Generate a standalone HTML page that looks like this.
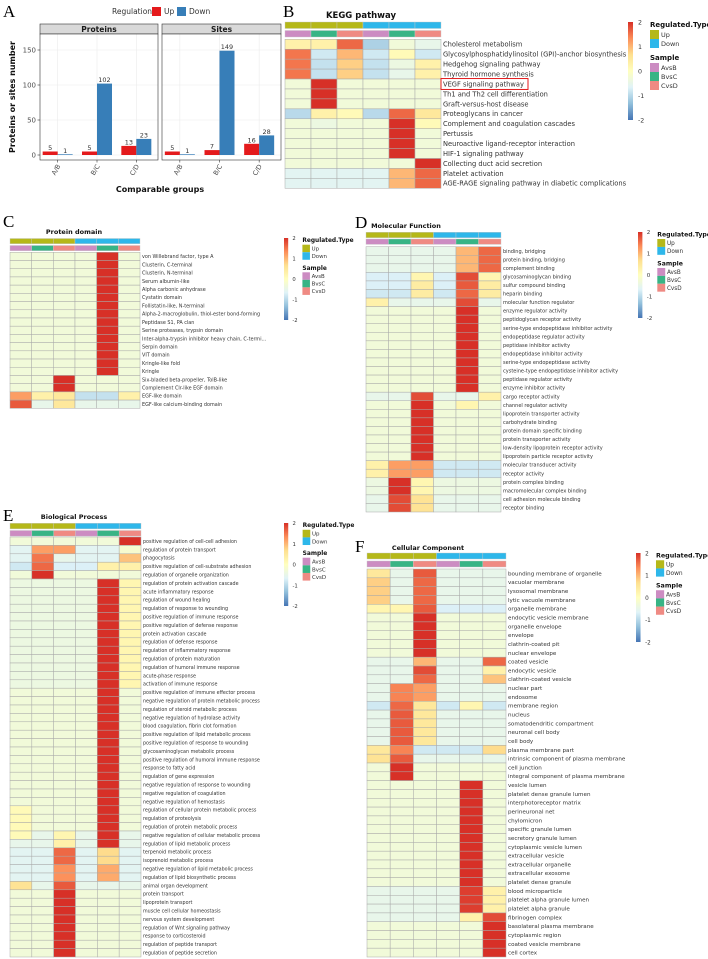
<!DOCTYPE html>
<html><head><meta charset="utf-8"><style>
html,body{margin:0;padding:0;background:#fff;}
svg{display:block;font-family:"DejaVu Sans","Liberation Sans",sans-serif;}
.pl{font-family:"Liberation Serif",serif;font-size:17px;}
</style></head><body>
<svg id="fig" width="708" height="959" viewBox="0 0 708 959" xmlns="http://www.w3.org/2000/svg">
<text class="pl" x="3" y="17">A</text>
<text class="pl" x="283" y="17">B</text>
<text class="pl" x="3" y="227">C</text>
<text class="pl" x="355" y="228">D</text>
<text class="pl" x="3" y="521">E</text>
<text class="pl" x="355" y="552">F</text>
<g id="gA"></g>
<g id="gB"></g>
<g id="gC"></g>
<g id="gD"></g>
<g id="gE"></g>
<g id="gF"></g>
</svg>
<script>
// ---------- Panel A data ----------
const barGroups = ["A/B","B/C","C/D"];
const barFacets = ["Proteins","Sites"];
const proteinsUp = [5,5,13];
const proteinsDown = [1,102,23];
const sitesUp = [5,7,16];
const sitesDown = [1,149,28];
const yTicks = [0,50,100,150];

// ---------- Heatmap data ----------
const colLabels = ["AvsB","BvsC","CvsD","AvsB","BvsC","CvsD"];
const keggRows = ["Cholesterol metabolism","Glycosylphosphatidylinositol (GPI)-anchor biosynthesis","Hedgehog signaling pathway","Thyroid hormone synthesis","VEGF signaling pathway","Th1 and Th2 cell differentiation","Graft-versus-host disease","Proteoglycans in cancer","Complement and coagulation cascades","Pertussis","Neuroactive ligand-receptor interaction","HIF-1 signaling pathway","Collecting duct acid secretion","Platelet activation","AGE-RAGE signaling pathway in diabetic complications"];
const keggVals = [
[0.3,0.3,1.6,-1.1,-0.3,-0.5],[1.5,-0.8,1.0,-0.8,0.1,-0.8],[1.5,-0.9,0.8,-0.9,-0.4,0.3],[1.5,-0.9,0.8,-0.9,-0.5,0.3],
[-0.3,2,-0.3,-0.3,-0.3,-0.3],[-0.3,2,-0.3,-0.3,-0.3,-0.3],[-0.3,2,-0.3,-0.3,-0.3,-0.3],
[-1,0.3,0.1,-1,1.6,0.5],[-0.3,-0.4,-0.3,-0.3,2,0.1],[-0.3,-0.3,-0.3,-0.3,2,-0.3],[-0.3,-0.3,-0.3,-0.3,2,-0.3],[-0.3,-0.3,-0.3,-0.3,2,-0.3],
[-0.3,-0.3,-0.3,-0.3,-0.3,2],[-0.6,-0.6,-0.6,-0.6,1.0,1.6],[-0.6,-0.6,-0.6,-0.6,1.0,1.6]];

const domainRows = ["von Willebrand factor, type A","Clusterin, C-terminal","Clusterin, N-terminal","Serum albumin-like","Alpha carbonic anhydrase","Cystatin domain","Follistatin-like, N-terminal","Alpha-2-macroglobulin, thiol-ester bond-forming","Peptidase S1, PA clan","Serine proteases, trypsin domain","Inter-alpha-trypsin inhibitor heavy chain, C-termi...","Serpin domain","VIT domain","Kringle-like fold","Kringle","Six-bladed beta-propeller, TolB-like","Complement Clr-like EGF domain","EGF-like domain","EGF-like calcium-binding domain"];
const domainVals = [
[-0.3,-0.3,-0.3,-0.3,2,-0.3],[-0.3,-0.3,-0.3,-0.3,2,-0.3],[-0.3,-0.3,-0.3,-0.3,2,-0.3],[-0.3,-0.3,-0.3,-0.3,2,-0.3],[-0.3,-0.3,-0.3,-0.3,2,-0.3],
[-0.3,-0.3,-0.3,-0.3,2,-0.3],[-0.3,-0.3,-0.3,-0.3,2,-0.3],[-0.3,-0.3,-0.3,-0.3,2,-0.3],[-0.3,-0.3,-0.3,-0.3,2,-0.3],[-0.3,-0.3,-0.3,-0.3,2,-0.3],
[-0.3,-0.3,-0.3,-0.3,2,-0.3],[-0.3,-0.3,-0.3,-0.3,2,-0.3],[-0.3,-0.3,-0.3,-0.3,2,-0.3],[-0.3,-0.3,-0.3,-0.3,2,-0.3],[-0.3,-0.3,-0.3,-0.3,2,-0.3],
[-0.3,-0.3,2,-0.3,-0.3,-0.3],[-0.3,-0.3,2,-0.3,-0.3,-0.3],[1.2,0.3,0.5,-0.9,-0.9,0.3],[1.7,-0.5,0.5,-0.5,-0.5,-0.5]];

const mfRows = ["binding, bridging","protein binding, bridging","complement binding","glycosaminoglycan binding","sulfur compound binding","heparin binding","molecular function regulator","enzyme regulator activity","peptidoglycan receptor activity","serine-type endopeptidase inhibitor activity","endopeptidase regulator activity","peptidase inhibitor activity","endopeptidase inhibitor activity","serine-type endopeptidase activity","cysteine-type endopeptidase inhibitor activity","peptidase regulator activity","enzyme inhibitor activity","cargo receptor activity","channel regulator activity","lipoprotein transporter activity","carbohydrate binding","protein domain specific binding","protein transporter activity","low-density lipoprotein receptor activity","lipoprotein particle receptor activity","molecular transducer activity","receptor activity","protein complex binding","macromolecular complex binding","cell adhesion molecule binding","receptor binding"];
const mfVals = [
[-0.5,-0.5,-0.5,-0.5,1.0,1.6],[-0.5,-0.5,-0.5,-0.5,1.0,1.6],[-0.5,-0.5,-0.5,-0.5,1.0,1.6],
[-0.7,-0.7,0.2,-0.7,1.8,0.2],[-0.7,-0.7,0.4,-0.7,1.7,0.4],[-0.8,-0.8,0.4,-0.8,1.6,0.4],[0.3,-0.5,-0.5,-0.5,1.8,-0.5],
[-0.3,-0.3,-0.3,-0.3,2,-0.3],[-0.3,-0.3,-0.3,-0.3,2,-0.3],[-0.3,-0.3,-0.3,-0.3,2,-0.3],[-0.3,-0.3,-0.3,-0.3,2,-0.3],[-0.3,-0.3,-0.3,-0.3,2,-0.3],
[-0.3,-0.3,-0.3,-0.3,2,-0.3],[-0.3,-0.3,-0.3,-0.3,2,-0.3],[-0.3,-0.3,-0.3,-0.3,2,-0.3],[-0.3,-0.3,-0.3,-0.3,2,-0.3],[-0.3,-0.3,-0.3,-0.3,2,-0.3],
[-0.5,-0.5,1.8,-0.5,-0.5,0.3],[-0.3,-0.3,2,-0.3,0.2,-0.3],
[-0.3,-0.3,2,-0.3,-0.3,-0.3],[-0.3,-0.3,2,-0.3,-0.3,-0.3],[-0.3,-0.3,2,-0.3,-0.3,-0.3],[-0.3,-0.3,2,-0.3,-0.3,-0.3],[-0.3,-0.3,2,-0.3,-0.3,-0.3],[-0.3,-0.3,2,-0.3,-0.3,-0.3],
[0.3,1.2,1.2,-0.8,-0.8,-0.8],[0.3,1.2,1.2,-0.8,-0.8,-0.8],
[-0.4,2,0.2,-0.4,-0.4,-0.4],[-0.4,2,0.2,-0.4,-0.4,-0.4],[-0.5,1.8,0.6,-0.5,-0.5,-0.5],[-0.5,1.8,0.6,-0.5,-0.5,-0.5]];

const bpRows = ["positive regulation of cell-cell adhesion","regulation of protein transport","phagocytosis","positive regulation of cell-substrate adhesion","regulation of organelle organization","regulation of protein activation cascade","acute inflammatory response","regulation of wound healing","regulation of response to wounding","positive regulation of immune response","positive regulation of defense response","protein activation cascade","regulation of defense response","regulation of inflammatory response","regulation of protein maturation","regulation of humoral immune response","acute-phase response","activation of immune response","positive regulation of immune effector process","negative regulation of protein metabolic process","regulation of steroid metabolic process","negative regulation of hydrolase activity","blood coagulation, fibrin clot formation","positive regulation of lipid metabolic process","positive regulation of response to wounding","glycosaminoglycan metabolic process","positive regulation of humoral immune response","response to fatty acid","regulation of gene expression","negative regulation of response to wounding","negative regulation of coagulation","negative regulation of hemostasis","regulation of cellular protein metabolic process","regulation of proteolysis","regulation of protein metabolic process","negative regulation of cellular metabolic process","regulation of lipid metabolic process","terpenoid metabolic process","isoprenoid metabolic process","negative regulation of lipid metabolic process","regulation of lipid biosynthetic process","animal organ development","protein transport","lipoprotein transport","muscle cell cellular homeostasis","nervous system development","regulation of Wnt signaling pathway","response to corticosteroid","regulation of peptide transport","regulation of peptide secretion"];
const bpVals = [
[-0.3,-0.3,-0.3,-0.3,-0.3,2],[-0.6,1.2,1.2,-0.6,-0.6,-0.2],[-0.6,1.5,-0.5,-0.6,-0.6,0.9],[-0.8,1.6,-0.7,-0.7,0.3,0.3],[-0.3,2,-0.3,-0.3,-0.3,-0.3],
[-0.4,-0.4,-0.4,-0.4,2,0.2],[-0.4,-0.4,-0.4,-0.4,2,0.2],[-0.4,-0.4,-0.4,-0.4,2,0.2],[-0.4,-0.4,-0.4,-0.4,2,0.2],[-0.4,-0.4,-0.4,-0.4,2,0.2],
[-0.4,-0.4,-0.4,-0.4,2,0.2],[-0.4,-0.4,-0.4,-0.4,2,0.2],[-0.4,-0.4,-0.4,-0.4,2,0.2],[-0.4,-0.4,-0.4,-0.4,2,0.2],[-0.4,-0.4,-0.4,-0.4,2,0.2],
[-0.4,-0.4,-0.4,-0.4,2,0.2],[-0.4,-0.4,-0.4,-0.4,2,0.2],[-0.4,-0.4,-0.4,-0.4,2,0.2],
[-0.3,-0.3,-0.3,-0.3,2,-0.3],[-0.3,-0.3,-0.3,-0.3,2,-0.3],[-0.3,-0.3,-0.3,-0.3,2,-0.3],[-0.3,-0.3,-0.3,-0.3,2,-0.3],[-0.3,-0.3,-0.3,-0.3,2,-0.3],
[-0.3,-0.3,-0.3,-0.3,2,-0.3],[-0.3,-0.3,-0.3,-0.3,2,-0.3],[-0.3,-0.3,-0.3,-0.3,2,-0.3],[-0.3,-0.3,-0.3,-0.3,2,-0.3],[-0.3,-0.3,-0.3,-0.3,2,-0.3],
[-0.3,-0.3,-0.3,-0.3,2,-0.3],[-0.3,-0.3,-0.3,-0.3,2,-0.3],[-0.3,-0.3,-0.3,-0.3,2,-0.3],[-0.3,-0.3,-0.3,-0.3,2,-0.3],
[0.1,-0.3,-0.3,-0.3,2,-0.3],[0.1,-0.3,-0.3,-0.3,2,-0.3],[0.1,-0.3,-0.3,-0.3,2,-0.3],
[0.1,-0.5,0.2,-0.5,2,-0.5],[-0.5,-0.5,0.3,-0.5,2,-0.5],
[-0.6,-0.6,1.6,-0.6,0.7,-0.6],[-0.6,-0.6,1.6,-0.6,0.7,-0.6],[-0.6,-0.6,1.3,-0.6,1.1,-0.6],[-0.6,-0.6,1.3,-0.6,1.1,-0.6],
[0.6,-0.5,1.7,-0.5,-0.5,-0.5],
[-0.3,-0.3,2,-0.3,-0.3,-0.3],[-0.3,-0.3,2,-0.3,-0.3,-0.3],[-0.3,-0.3,2,-0.3,-0.3,-0.3],[-0.3,-0.3,2,-0.3,-0.3,-0.3],
[-0.3,-0.3,2,-0.3,-0.3,-0.3],[-0.3,-0.3,2,-0.3,-0.3,-0.3],[-0.3,-0.3,2,-0.3,-0.3,-0.3],[-0.3,-0.3,2,-0.3,-0.3,-0.3]];

const ccRows = ["bounding membrane of organelle","vacuolar membrane","lysosomal membrane","lytic vacuole membrane","organelle membrane","endocytic vesicle membrane","organelle envelope","envelope","clathrin-coated pit","nuclear envelope","coated vesicle","endocytic vesicle","clathrin-coated vesicle","nuclear part","endosome","membrane region","nucleus","somatodendritic compartment","neuronal cell body","cell body","plasma membrane part","intrinsic component of plasma membrane","cell junction","integral component of plasma membrane","vesicle lumen","platelet dense granule lumen","interphotoreceptor matrix","perineuronal net","chylomicron","specific granule lumen","secretory granule lumen","cytoplasmic vesicle lumen","extracellular vesicle","extracellular organelle","extracellular exosome","platelet dense granule","blood microparticle","platelet alpha granule lumen","platelet alpha granule","fibrinogen complex","basolateral plasma membrane","cytoplasmic region","coated vesicle membrane","cell cortex"];
const ccVals = [
[0.5,-0.5,1.7,-0.5,-0.5,-0.5],[0.8,-0.5,1.6,-0.5,-0.5,-0.5],[0.8,-0.5,1.6,-0.5,-0.5,-0.5],[0.8,-0.5,1.6,-0.5,-0.5,-0.5],[0.2,0.2,1.7,-0.7,-0.7,-0.7],
[-0.3,-0.3,2,-0.3,-0.3,-0.3],[-0.3,-0.3,2,-0.3,-0.3,-0.3],[-0.3,-0.3,2,-0.3,-0.3,-0.3],[-0.3,-0.3,2,-0.3,-0.3,-0.3],[-0.3,-0.3,2,-0.3,-0.3,-0.3],
[-0.5,-0.5,1.0,-0.5,-0.5,1.6],[-0.5,-0.5,1.8,-0.5,-0.5,0.3],[-0.5,-0.5,1.6,-0.5,-0.5,0.9],
[-0.5,1.4,1.2,-0.5,-0.5,-0.5],[-0.5,1.4,1.2,-0.5,-0.5,-0.5],[-0.8,1.6,0.5,-0.8,0.2,-0.8],
[-0.5,1.7,0.5,-0.5,-0.5,-0.5],[-0.5,1.7,0.5,-0.5,-0.5,-0.5],[-0.5,1.7,0.5,-0.5,-0.5,-0.5],[-0.5,1.7,0.5,-0.5,-0.5,-0.5],
[0.5,1.4,-0.8,-0.8,-0.8,0.7],[0.6,1.7,-0.5,-0.5,-0.5,-0.5],[-0.3,2,-0.3,-0.3,-0.3,-0.3],[-0.3,2,-0.3,-0.3,-0.3,-0.3],
[-0.3,-0.3,-0.3,-0.3,2,-0.3],[-0.3,-0.3,-0.3,-0.3,2,-0.3],[-0.3,-0.3,-0.3,-0.3,2,-0.3],[-0.3,-0.3,-0.3,-0.3,2,-0.3],
[-0.3,-0.3,-0.3,-0.3,2,-0.3],[-0.3,-0.3,-0.3,-0.3,2,-0.3],[-0.3,-0.3,-0.3,-0.3,2,-0.3],[-0.3,-0.3,-0.3,-0.3,2,-0.3],
[-0.3,-0.3,-0.3,-0.3,2,-0.3],[-0.3,-0.3,-0.3,-0.3,2,-0.3],[-0.3,-0.3,-0.3,-0.3,2,-0.3],[-0.3,-0.3,-0.3,-0.3,2,-0.3],
[-0.5,-0.5,-0.5,-0.5,1.9,0.3],[-0.5,-0.5,-0.5,-0.5,1.9,0.3],[-0.5,-0.5,-0.5,-0.5,1.9,0.3],
[-0.5,-0.5,-0.5,-0.5,0.3,1.8],
[-0.3,-0.3,-0.3,-0.3,-0.3,2],[-0.3,-0.3,-0.3,-0.3,-0.3,2],[-0.3,-0.3,-0.3,-0.3,-0.3,2],[-0.3,-0.3,-0.3,-0.3,-0.3,2]];

const NS="http://www.w3.org/2000/svg";
function mk(parent,tag,attrs,txt){const e=document.createElementNS(NS,tag);for(const k in attrs)e.setAttribute(k,attrs[k]);if(txt!==undefined)e.textContent=txt;parent.appendChild(e);return e;}

const STOPS=["#4575B4","#91BFDB","#E0F3F8","#FFFFBF","#FEE090","#FC8D59","#D73027"];
function hex(h){return [1,3,5].map(i=>parseInt(h.substr(i,2),16));}
function colorOf(v){v=Math.max(-2,Math.min(2,v));const t=(v+2)/4*6;const i=Math.min(5,Math.floor(t));const f=t-i;const a=hex(STOPS[i]),b=hex(STOPS[i+1]);return "rgb("+a.map((x,k)=>Math.round(x+(b[k]-x)*f)).join(",")+")";}
const TYPE_COL={Up:"#B5B819",Down:"#2EB7EA"};
const SAMPLE_COL={AvsB:"#CC8CC2",BvsC:"#38B485",CvsD:"#EF8A83"};

// ---------- Panel A ----------
(function(){
const g=document.getElementById("gA");
const y0=155, k=0.7;
const yS=v=>y0-v*k;
const panels=[{x0:40,x1:158,up:proteinsUp,down:proteinsDown},{x0:162,x1:281,up:sitesUp,down:sitesDown}];
let t=mk(g,"text",{x:112,y:14,"font-size":7.5,fill:"#333"},"Regulation");


let r=mk(g,"rect",{x:152,y:7,width:9,height:9,fill:"#E41A1C"});


t=mk(g,"text",{x:164,y:14,"font-size":7.5,fill:"#333"},"Up");


r=mk(g,"rect",{x:177,y:7,width:9,height:9,fill:"#377EB8"});


t=mk(g,"text",{x:189,y:14,"font-size":7.5,fill:"#333"},"Down");


panels.forEach((p,pi)=>{
  const w=p.x1-p.x0;
  const s=mk(g,"rect",{x:p.x0,y:24,width:w,height:10,fill:"#D9D9D9",stroke:"#333","stroke-width":0.6});
  
  
  const st=mk(g,"text",{x:p.x0+w/2,y:32,"font-size":7.5,"font-weight":"bold","text-anchor":"middle",fill:"#1a1a1a"},barFacets[pi]);
  
  
  const pb=mk(g,"rect",{x:p.x0,y:34,width:w,height:126,fill:"#fff"});
  
  
  const step=w/3, bw=15;
  yTicks.forEach(v=>{const gl=mk(g,"line",{x1:p.x0,x2:p.x1,y1:yS(v),y2:yS(v),stroke:"#EBEBEB","stroke-width":0.6});
    
    });
  barGroups.forEach((gname,i)=>{
    const cx=p.x0+step*(i+0.5)-2;
    const gv=mk(g,"line",{x1:cx,x2:cx,y1:34,y2:160,stroke:"#EBEBEB","stroke-width":0.6});
    
    
    [[p.up[i],"#E41A1C",cx-bw],[p.down[i],"#377EB8",cx]].forEach((b,j)=>{
      const br=mk(g,"rect",{x:b[2],y:yS(b[0]),width:bw,height:b[0]*k,fill:b[1]});
      
      
      const lb=mk(g,"text",{x:b[2]+bw/2,y:yS(b[0])-1.5,"font-size":6.5,"text-anchor":"middle",fill:"#333"},String(b[0]));
      
      
    });
    const tk=mk(g,"line",{x1:cx,x2:cx,y1:160,y2:162.5,stroke:"#333","stroke-width":0.6});
    
    
    const xl=mk(g,"text",{x:cx+3,y:166,"font-size":6.5,"text-anchor":"end",fill:"#4d4d4d",transform:"rotate(-60 "+(cx+3)+" 166)"},gname);
    
    
  });
  const bd=mk(g,"rect",{x:p.x0,y:34,width:w,height:126,fill:"none",stroke:"#333","stroke-width":0.6});
  
  
});
yTicks.forEach(v=>{
  const tk=mk(g,"line",{x1:37.5,x2:40,y1:yS(v),y2:yS(v),stroke:"#333","stroke-width":0.6});
  
  
  const tl=mk(g,"text",{x:36,y:yS(v)+2.5,"font-size":7,"text-anchor":"end",fill:"#4d4d4d"},String(v));
  
  
});
t=mk(g,"text",{x:15,y:97,"font-size":8,"font-weight":"bold","text-anchor":"middle",transform:"rotate(-90 15 97)",fill:"#111"},"Proteins or sites number");


t=mk(g,"text",{x:160,y:192,"font-size":8,"font-weight":"bold","text-anchor":"middle",fill:"#111"},"Comparable groups");


})();

// ---------- heatmap drawing ----------
function heatmap(id,cfg,rows,vals){
  const g=document.getElementById(id);
  const cw=(cfg.x1-cfg.x0)/6, rh=(cfg.y1-cfg.yr)/rows.length;
  const tt=mk(g,"text",{x:cfg.tx,y:cfg.ty,"font-size":cfg.tfs,"font-weight":"bold","text-anchor":"middle",fill:"#111"},cfg.title);
  
  
  for(let c=0;c<6;c++){
    const a=mk(g,"rect",{x:cfg.x0+c*cw,y:cfg.ya,width:cw,height:cfg.ah,fill:TYPE_COL[c<3?"Up":"Down"],stroke:"#c8c8c8","stroke-width":0.4});
    
    
    const b=mk(g,"rect",{x:cfg.x0+c*cw,y:cfg.ys,width:cw,height:cfg.ah,fill:SAMPLE_COL[colLabels[c]],stroke:"#c8c8c8","stroke-width":0.4});
    
    
  }
  rows.forEach((name,i)=>{
    vals[i].forEach((v,c)=>{
      const r=mk(g,"rect",{x:cfg.x0+c*cw,y:cfg.yr+i*rh,width:cw,height:rh,fill:colorOf(v),stroke:"#A9A9A9","stroke-width":0.5});
      
      
    });
    const l=mk(g,"text",{x:cfg.x1+2,y:cfg.yr+i*rh+rh/2+cfg.fs*0.36,"font-size":cfg.fs,fill:"#333"},name);
    
    
  });
  const s=cfg.cbH/98;
  const gid="grad"+id;
  const defs=mk(g,"defs",{});
  const lg=mk(defs,"linearGradient",{id:gid,x1:0,y1:1,x2:0,y2:0});
  STOPS.forEach((c,i)=>mk(lg,"stop",{offset:(i/6*100)+"%","stop-color":c}));
  const cb=mk(g,"rect",{x:cfg.cbX,y:cfg.cbY,width:5*s,height:cfg.cbH,fill:"url(#"+gid+")"});
  
  
  [2,1,0,-1,-2].forEach((v,i)=>{
    const yy=cfg.cbY+cfg.cbH*i/4;
    const tl=mk(g,"text",{x:cfg.cbX+10*s,y:yy+2.5*s,"font-size":6.3*s,fill:"#333"},String(v));
    
    
  });
  const lx=cfg.cbX+22*s, ly=cfg.cbY;
  let t=mk(g,"text",{x:lx,y:ly+5*s,"font-size":7*s,"font-weight":"bold",fill:"#111"},"Regulated.Type");
  
  
  ["Up","Down"].forEach((k,i)=>{
    const sw=mk(g,"rect",{x:lx,y:ly+(8+i*9)*s,width:9*s,height:9*s,fill:TYPE_COL[k]});
    
    
    const tx=mk(g,"text",{x:lx+11*s,y:ly+(15+i*9)*s,"font-size":6.5*s,fill:"#333"},k);
    
    
  });
  t=mk(g,"text",{x:lx,y:ly+38*s,"font-size":7*s,"font-weight":"bold",fill:"#111"},"Sample");
  
  
  ["AvsB","BvsC","CvsD"].forEach((k,i)=>{
    const sw=mk(g,"rect",{x:lx,y:ly+(41+i*9)*s,width:9*s,height:9*s,fill:SAMPLE_COL[k]});
    
    
    const tx=mk(g,"text",{x:lx+11*s,y:ly+(48+i*9)*s,"font-size":6.5*s,fill:"#333"},k);
    
    
  });
  return {g,cw,rh};
}

const hb=heatmap("gB",{title:"KEGG pathway",tx:361,ty:18,tfs:8.5,x0:285,x1:441,ya:22,ys:30.5,ah:6.5,yr:39.3,y1:188.3,fs:6.7,cbX:628,cbY:22,cbH:98},keggRows,keggVals);
(function(){const i=keggRows.indexOf("VEGF signaling pathway");
const bx=mk(hb.g,"rect",{x:441,y:39.3+i*hb.rh-0.5,width:87,height:hb.rh+1,fill:"none",stroke:"#E41A1C","stroke-width":1});

})();
heatmap("gC",{title:"Protein domain",tx:74,ty:234,tfs:6.5,x0:10,x1:140,ya:238.5,ys:245.5,ah:5.2,yr:252.3,y1:408.3,fs:4.9,cbX:284,cbY:238,cbH:82},domainRows,domainVals);
heatmap("gD",{title:"Molecular Function",tx:406,ty:228,tfs:6.5,x0:366,x1:501,ya:232.3,ys:239,ah:5.4,yr:246.7,y1:512,fs:5,cbX:638,cbY:232,cbH:86},mfRows,mfVals);
heatmap("gE",{title:"Biological Process",tx:74,ty:519,tfs:6.5,x0:10,x1:141,ya:523.3,ys:530.5,ah:5.6,yr:537,y1:957,fs:4.8,cbX:284,cbY:523,cbH:83},bpRows,bpVals);
heatmap("gF",{title:"Cellular Component",tx:428,ty:550,tfs:6.5,x0:367,x1:506,ya:553,ys:561,ah:6,yr:569,y1:957,fs:5.6,cbX:636,cbY:553,cbH:89},ccRows,ccVals);
</script>
</body></html>
